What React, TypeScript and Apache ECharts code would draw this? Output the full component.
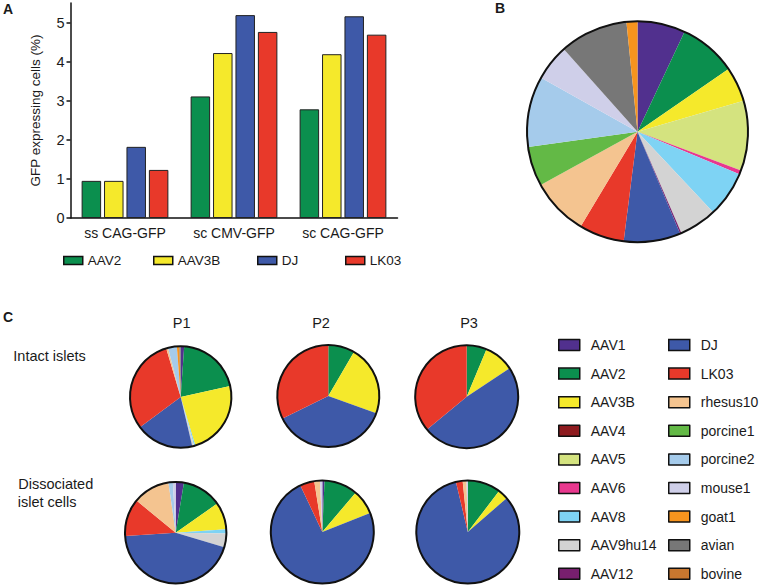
import React, { useEffect, useRef } from "react";
import * as echarts from "echarts";

const FONT = '"Liberation Sans", Arial, Helvetica, sans-serif';

// Panel A
const constructs = ["ss CAG-GFP", "sc CMV-GFP", "sc CAG-GFP"];
const barSeriesNames = ["AAV2", "AAV3B", "DJ", "LK03"];
const aav2Values = [0.95, 3.11, 2.78];
const aav3bValues = [0.95, 4.22, 4.19];
const djValues = [1.82, 5.19, 5.16];
const lk03Values = [1.23, 4.76, 4.69];
const yTicks = [0, 1, 2, 3, 4, 5];

// Colours by capsid
const capsidColors: Record<string, string> = {
  AAV1: "#51308e",
  AAV2: "#0b8f4e",
  AAV3B: "#f5e92b",
  AAV4: "#8e1b1f",
  AAV5: "#d4e37f",
  AAV6: "#e8388e",
  AAV8: "#7ed3f4",
  AAV9hu14: "#d3d3d3",
  AAV12: "#781f6e",
  DJ: "#3e59a8",
  LK03: "#e8392a",
  rhesus10: "#f4c490",
  porcine1: "#63b946",
  porcine2: "#a5cbeb",
  mouse1: "#cfcfe9",
  goat1: "#f7941e",
  avian: "#777777",
  bovine: "#c8772f",
};

// Panel B (percent of reads)
const bNames = ["AAV1", "AAV2", "AAV3B", "AAV4", "AAV5", "AAV6", "AAV8", "AAV9hu14", "AAV12", "DJ", "LK03", "rhesus10", "porcine1", "porcine2", "mouse1", "avian", "goat1", "bovine"];
const bValues = [7.0, 8.4, 5.1, 0, 10.2, 0.6, 6.7, 5.5, 0.2, 8.3, 6.6, 8.4, 5.8, 10.3, 5.3, 10.0, 1.6, 0];

// Panel C
const p1IntactNames = ["AAV1", "AAV2", "AAV3B", "AAV8", "AAV9hu14", "DJ", "LK03", "rhesus10", "porcine2", "goat1", "avian"];
const p1IntactValues = [1.1, 20.4, 23.8, 0.4, 0.6, 18.5, 30.5, 0.6, 2.8, 0.8, 0.4];
const p2IntactNames = ["AAV2", "AAV3B", "DJ", "LK03"];
const p2IntactValues = [8.4, 22.1, 37.2, 32.3];
const p3IntactNames = ["AAV2", "AAV3B", "DJ", "LK03"];
const p3IntactValues = [6.3, 9.4, 48.3, 36.0];
const p1DissNames = ["AAV1", "AAV2", "AAV3B", "AAV8", "AAV9hu14", "DJ", "LK03", "rhesus10", "porcine2", "mouse1"];
const p1DissValues = [2.6, 12.7, 8.7, 1.3, 4.4, 44.4, 12.0, 11.8, 1.4, 0.9];
const p2DissNames = ["AAV1", "AAV2", "AAV3B", "DJ", "LK03", "rhesus10", "mouse1"];
const p2DissValues = [0.7, 10.5, 7.8, 74.0, 4.5, 1.8, 0.7];
const p3DissNames = ["AAV2", "AAV3B", "DJ", "LK03", "rhesus10", "mouse1"];
const p3DissValues = [10.4, 3.2, 82.7, 2.1, 1.2, 0.4];

const legendCol1 = ["AAV1", "AAV2", "AAV3B", "AAV4", "AAV5", "AAV6", "AAV8", "AAV9hu14", "AAV12"];
const legendCol2 = ["DJ", "LK03", "rhesus10", "porcine1", "porcine2", "mouse1", "goat1", "avian", "bovine"];
const patientLabels = ["P1", "P2", "P3"];

const TEXT = "#1a1a1a";

function pieData(names: string[], values: number[]) {
  return names.map((n, i) => ({ name: n, value: values[i], itemStyle: { color: capsidColors[n] } }));
}

export default function App() {
  const ref = useRef<HTMLDivElement>(null);
  useEffect(() => {
    document.body.style.margin = "0";
    const chart = echarts.init(ref.current!, undefined, { renderer: "svg" });
    const barValues = [aav2Values, aav3bValues, djValues, lk03Values];

    const pies = [
      { center: [637.5, 131.7], r: 110.5, names: bNames, values: bValues },
      { center: [180.7, 397], r: 50.7, names: p1IntactNames, values: p1IntactValues },
      { center: [328.3, 396], r: 51, names: p2IntactNames, values: p2IntactValues },
      { center: [466.7, 396.7], r: 51.5, names: p3IntactNames, values: p3IntactValues },
      { center: [175.7, 532.7], r: 50.7, names: p1DissNames, values: p1DissValues },
      { center: [322.3, 532], r: 51.5, names: p2DissNames, values: p2DissValues },
      { center: [467.8, 532], r: 51.5, names: p3DissNames, values: p3DissValues },
    ];

    const pieSeries: any[] = pies.map((p) => ({
      type: "pie",
      center: p.center,
      radius: p.r,
      startAngle: 90,
      clockwise: true,
      silent: true,
      label: { show: false },
      labelLine: { show: false },
      itemStyle: { borderWidth: 0 },
      emphasis: { disabled: true },
      data: pieData(p.names, p.values),
    }));
    const outlineSeries: any[] = pies.map((p) => ({
      type: "pie",
      center: p.center,
      radius: p.r,
      silent: true,
      label: { show: false },
      labelLine: { show: false },
      emphasis: { disabled: true },
      itemStyle: { color: "rgba(0,0,0,0)", borderColor: "#111", borderWidth: 2 },
      data: [{ name: "outline", value: 1 }],
    }));

    const legendALefts = [63, 153, 257, 345];
    const legendA = barSeriesNames.map((n, i) => ({
      data: [n],
      left: legendALefts[i],
      top: 252.5,
      padding: 0,
      icon: "rect",
      itemWidth: 19,
      itemHeight: 8,
      itemStyle: { borderColor: "#111", borderWidth: 1.5 },
      textStyle: { fontSize: 13.5, color: TEXT, fontFamily: FONT, lineHeight: 16 },
      selectedMode: false,
    }));
    const legendC = [legendCol1, legendCol2].map((col, i) => ({
      data: col,
      orient: "vertical",
      left: i === 0 ? 558 : 668,
      top: 337,
      padding: 0,
      icon: "rect",
      itemWidth: 21,
      itemHeight: 11,
      itemGap: 12.6,
      itemStyle: { borderColor: "#111", borderWidth: 1.5 },
      textStyle: { fontSize: 14, color: TEXT, fontFamily: FONT, lineHeight: 16, padding: [0, 0, 0, 6] },
      selectedMode: false,
    }));

    const txt = (text: string, x: number, y: number, size: number, bold = false, align = "left") => ({
      type: "text",
      x,
      y,
      silent: true,
      style: {
        text,
        fill: TEXT,
        fontSize: size,
        fontFamily: FONT,
        fontWeight: bold ? "bold" : "normal",
        textAlign: align,
        textVerticalAlign: "middle",
        align,
        verticalAlign: "middle",
      },
    });
    const patientX = [181.7, 321, 469];

    chart.setOption({
      animation: false,
      textStyle: { fontFamily: FONT },
      grid: { left: 70.5, top: 3, width: 327, height: 215, containLabel: false },
      xAxis: {
        type: "category",
        data: constructs,
        axisLine: { lineStyle: { color: "#111", width: 1.5 } },
        axisTick: { show: false },
        axisLabel: { fontSize: 14, color: TEXT, margin: 8, fontFamily: FONT },
      },
      yAxis: {
        type: "value",
        min: 0,
        max: 5.5,
        interval: 1,
        name: "GFP expressing cells (%)",
        nameLocation: "middle",
        nameGap: 28,
        nameTextStyle: { fontSize: 13.5, color: TEXT, fontFamily: FONT },
        axisLine: { show: true, lineStyle: { color: "#111", width: 1.5 } },
        axisTick: { show: true, length: 4, lineStyle: { color: "#111", width: 1.5 }, customValues: yTicks },
        axisLabel: { fontSize: 14.5, color: TEXT, margin: 6, fontFamily: FONT, customValues: yTicks },
        splitLine: { show: false },
      },
      legend: [...legendA, ...legendC],
      series: [
        ...barSeriesNames.map((n, i) => ({
          type: "bar",
          name: n,
          data: barValues[i],
          barWidth: 19.5,
          barGap: "15%",
          itemStyle: { color: capsidColors[n], borderColor: "#222", borderWidth: 1 },
          silent: true,
        })),
        ...pieSeries,
        ...outlineSeries,
      ],
      graphic: [
        txt("A", 3, 8.7, 14, true),
        txt("B", 495, 8, 14, true),
        txt("C", 3, 316.7, 14, true),
        ...patientLabels.map((p, i) => txt(p, patientX[i], 322.5, 14.5, false, "center")),
        txt("Intact islets", 13.3, 356, 14.5),
        txt("Dissociated", 18.3, 484, 14.5),
        txt("islet cells", 17.7, 501.5, 14.5),
      ],
    });
    return () => chart.dispose();
  }, []);
  return <div ref={ref} style={{ position: "absolute", left: 0, top: 0, width: 760, height: 586 }} />;
}
